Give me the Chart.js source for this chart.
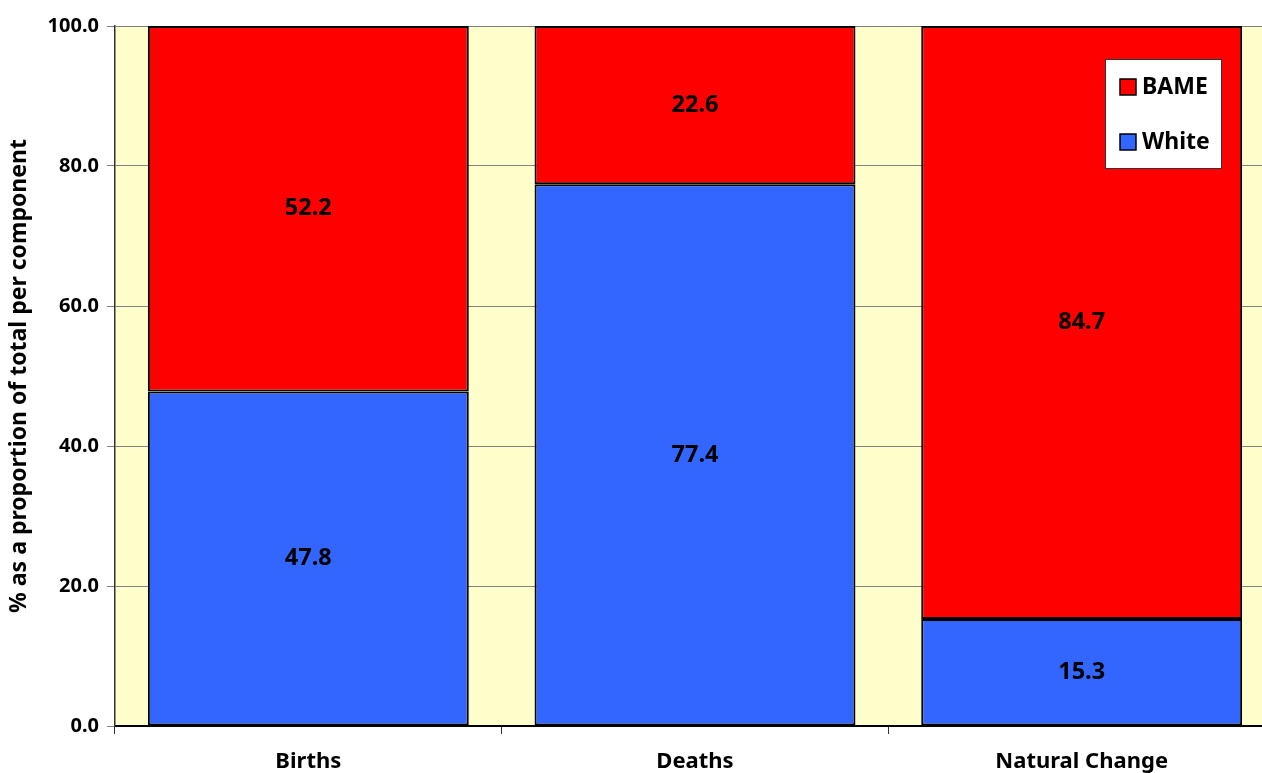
<!DOCTYPE html>
<html>
<head>
<meta charset="utf-8">
<script src="https://cdn.jsdelivr.net/npm/chart.js@4.4.0/dist/chart.umd.min.js"></script>
<style>
html,body{margin:0;padding:0;background:#fff;overflow:hidden;}
#wrap{width:1276px;height:773px;}
canvas{display:block;}
</style>
</head>
<body>
<div id="wrap"><canvas id="c" width="1276" height="773"></canvas></div>
<script>
const categories = ["Births", "Deaths", "Natural Change"];
const whiteValues = [47.8, 77.4, 15.3];
const bameValues = [52.2, 22.6, 84.7];
const seriesNames = ["White", "BAME"];
const yTitle = "% as a proportion of total per component";

const FONT = "'Noto Sans', 'Open Sans', sans-serif";

const bgPlugin = {
  id: 'plotBg',
  beforeDraw(chart) {
    const a = chart.chartArea, ctx = chart.ctx;
    ctx.save();
    ctx.fillStyle = '#FFFFCC';
    ctx.fillRect(a.left, a.top, a.right - a.left, a.bottom - a.top);
    ctx.restore();
  }
};

const labelPlugin = {
  id: 'valueLabels',
  afterDatasetsDraw(chart) {
    const ctx = chart.ctx;
    ctx.save();
    ctx.font = "bold 23.5px " + FONT;
    ctx.fillStyle = '#000';
    ctx.textAlign = 'center';
    ctx.textBaseline = 'middle';
    chart.data.datasets.forEach((ds, i) => {
      const meta = chart.getDatasetMeta(i);
      meta.data.forEach((bar, j) => {
        const v = ds.data[j];
        const yc = (bar.y + bar.base) / 2;
        ctx.fillText(v.toFixed(1), bar.x, yc);
      });
    });
    ctx.restore();
  }
};

const legendPlugin = {
  id: 'boxLegend',
  afterDraw(chart) {
    const ctx = chart.ctx;
    const x = 1105, y = 59, w = 116, h = 109;
    ctx.save();
    ctx.fillStyle = '#fff';
    ctx.fillRect(x, y, w, h);
    ctx.strokeStyle = '#333';
    ctx.lineWidth = 1;
    ctx.strokeRect(x + 0.5, y + 0.5, w, h);
    const items = chart.data.datasets.slice().reverse();
    ctx.font = "bold 23px " + FONT;
    ctx.textBaseline = 'middle';
    ctx.textAlign = 'left';
    items.forEach((ds, k) => {
      const cy = 87 + k * 55;
      ctx.fillStyle = ds.backgroundColor;
      ctx.fillRect(x + 15, cy - 8, 16, 16);
      ctx.strokeStyle = '#000';
      ctx.lineWidth = 1.5;
      ctx.strokeRect(x + 15, cy - 8, 16, 16);
      ctx.fillStyle = '#000';
      ctx.fillText(ds.label, x + 37, cy);
    });
    ctx.restore();
  }
};

new Chart(document.getElementById('c'), {
  type: 'bar',
  data: {
    labels: categories,
    datasets: [
      { label: seriesNames[0], data: whiteValues, backgroundColor: '#3366FF', borderColor: '#000', borderWidth: 2, borderSkipped: false },
      { label: seriesNames[1], data: bameValues, backgroundColor: '#FF0000', borderColor: '#000', borderWidth: 2, borderSkipped: false }
    ]
  },
  options: {
    responsive: false,
    animation: false,
    devicePixelRatio: 1,
    layout: { padding: { top: 26, right: 1, bottom: 0, left: 0 } },
    plugins: { legend: { display: false }, tooltip: { enabled: false } },
    datasets: { bar: { barPercentage: 0.83, categoryPercentage: 1.0 } },
    scales: {
      x: {
        stacked: true,
        offset: true,
        grid: { offset: true, drawOnChartArea: false, drawTicks: true, tickLength: 8, color: '#333', lineWidth: 1 },
        border: { display: true, color: '#000', width: 2 },
        ticks: { color: '#000', font: { family: FONT, size: 22, weight: 'bold' }, padding: 15, maxRotation: 0, autoSkip: false },
        afterFit(scale) { scale.height = 47; }
      },
      y: {
        stacked: true,
        min: 0, max: 100,
        ticks: { stepSize: 20, color: '#000', font: { family: FONT, size: 20, weight: 'bold' }, padding: 8, callback: v => Number(v).toFixed(1) },
        grid: { color: '#808080', lineWidth: 1, tickLength: 8, drawTicks: true },
        border: { display: true, color: '#333', width: 1.5 },
        title: { display: true, text: yTitle, color: '#000', font: { family: FONT, size: 23, weight: 'bold' }, padding: { top: 6, bottom: 0 } },
        afterFit(scale) { scale.width = 115; }
      }
    }
  },
  plugins: [bgPlugin, labelPlugin, legendPlugin]
});
</script>
</body>
</html>
